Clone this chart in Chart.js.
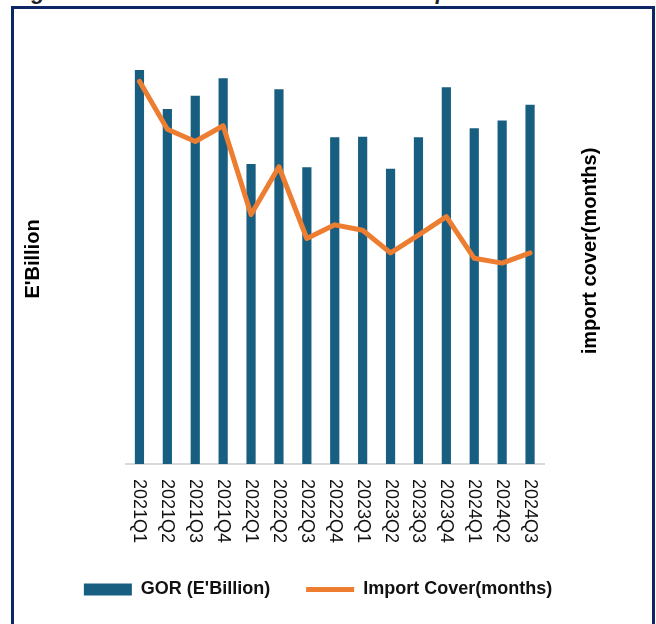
<!DOCTYPE html>
<html>
<head>
<meta charset="utf-8">
<script src="https://cdn.jsdelivr.net/npm/chart.js@4.4.1/dist/chart.umd.min.js"></script>
<style>
  html, body { margin: 0; padding: 0; background: #ffffff; overflow: hidden; }
  #wrap { position: relative; width: 656px; height: 624px; overflow: hidden; background: #ffffff; }
  #caption {
    position: absolute; left: 12px; top: -19px; white-space: nowrap;
    font: italic bold 22px 'Liberation Sans', Arial, sans-serif; line-height: 22px; color: #222222;
  }
  #chart { position: absolute; left: 0; top: 0; }
  #frame {
    position: absolute; left: 11px; top: 6px; width: 644px; height: 700px;
    box-sizing: border-box; border: 3px solid #0d2766; pointer-events: none;
  }
</style>
</head>
<body>
<div id="wrap">
  <div id="caption">Figure 6: Gross Official Reserves and Import Cover</div>
  <canvas id="chart" width="656" height="624"></canvas>
  <div id="frame"></div>
</div>
<script>
// Quarters on the category axis (also used as the tick labels)
const categories = ['2021Q1', '2021Q2', '2021Q3', '2021Q4',
                    '2022Q1', '2022Q2', '2022Q3', '2022Q4',
                    '2023Q1', '2023Q2', '2023Q3', '2023Q4',
                    '2024Q1', '2024Q2', '2024Q3'];

// Gross official reserves, E'Billion
const gorValues = [9.61, 8.66, 8.98, 9.41, 7.32, 9.14, 7.24, 7.97,
                   7.98, 7.20, 7.97, 9.19, 8.19, 8.38, 8.76];

// Import cover, months
const coverValues = [5.60, 4.90, 4.72, 4.95, 3.65, 4.35, 3.30, 3.50,
                     3.42, 3.09, 3.35, 3.62, 3.01, 2.94, 3.09];

const gorRange = [0, 10];
const coverRange = [0, 6];

const gorLabel = "GOR (E'Billion)";
const coverLabel = 'Import Cover(months)';
const gorAxisTitle = "E'Billion";
const coverAxisTitle = 'import cover(months)';

const FONT = "'Liberation Sans', Arial, sans-serif";

// Category labels written top-to-bottom under each bar
const verticalTickLabels = {
  id: 'verticalTickLabels',
  afterDraw(chart) {
    const xs = chart.scales.x;
    const ctx = chart.ctx;
    ctx.save();
    ctx.font = '18px ' + FONT;
    ctx.fillStyle = '#111111';
    ctx.textAlign = 'left';
    ctx.textBaseline = 'middle';
    xs.ticks.forEach((t, i) => {
      const x = xs.getPixelForTick(i);
      ctx.save();
      ctx.translate(x, xs.top + 15);
      ctx.rotate(Math.PI / 2);
      ctx.fillText(xs.getLabelForValue(t.value), 0, 0);
      ctx.restore();
    });
    ctx.restore();
  }
};

// Title of the right-hand axis, reading bottom-to-top
const rightAxisTitle = {
  id: 'rightAxisTitle',
  afterDraw(chart) {
    const s = chart.scales.yCover;
    const area = chart.chartArea;
    const ctx = chart.ctx;
    ctx.save();
    ctx.translate(s.left + 46, (area.top + area.bottom) / 2 - 8);
    ctx.rotate(-Math.PI / 2);
    ctx.font = 'bold 20px ' + FONT;
    ctx.fillStyle = '#000000';
    ctx.textAlign = 'center';
    ctx.textBaseline = 'middle';
    ctx.fillText(coverAxisTitle, 0, 0);
    ctx.restore();
  }
};

new Chart(document.getElementById('chart'), {
  data: {
    labels: categories,
    datasets: [
      {
        type: 'bar',
        label: gorLabel,
        data: gorValues,
        yAxisID: 'yGor',
        backgroundColor: '#185e81',
        borderWidth: 0,
        barPercentage: 0.33,
        categoryPercentage: 1,
        order: 1
      },
      {
        type: 'line',
        label: coverLabel,
        data: coverValues,
        yAxisID: 'yCover',
        borderColor: '#ed7d31',
        backgroundColor: '#ed7d31',
        borderWidth: 5,
        borderCapStyle: 'round',
        borderJoinStyle: 'round',
        pointRadius: 0,
        tension: 0,
        order: 0
      }
    ]
  },
  options: {
    responsive: false,
    animation: false,
    layout: { padding: { left: 0, right: 20, top: 54, bottom: 15.5 } },
    plugins: {
      tooltip: { enabled: false },
      legend: {
        position: 'bottom',
        labels: {
          usePointStyle: true,
          pointStyleWidth: 48,
          boxHeight: 12,
          padding: 36,
          color: '#111111',
          font: { family: FONT, size: 18, weight: 'bold' },
          sort: (a, b) => a.datasetIndex - b.datasetIndex,
          generateLabels(chart) {
            const items = Chart.defaults.plugins.legend.labels.generateLabels(chart);
            items.forEach(it => { it.pointStyle = it.datasetIndex === 0 ? 'rect' : 'line'; });
            return items;
          }
        }
      }
    },
    scales: {
      x: {
        ticks: { display: false },
        grid: { display: false },
        border: { display: true, color: '#d9d9d9', width: 2 },
        afterFit: s => { s.height = 80.5; }
      },
      yGor: {
        position: 'left',
        min: gorRange[0],
        max: gorRange[1],
        ticks: { display: false },
        grid: { display: false },
        border: { display: false },
        title: {
          display: true,
          text: gorAxisTitle,
          color: '#000000',
          font: { family: FONT, size: 20, weight: 'bold' },
          padding: { top: 21, bottom: 0 }
        },
        afterFit: s => { s.width = 125.5; }
      },
      yCover: {
        position: 'right',
        min: coverRange[0],
        max: coverRange[1],
        ticks: { display: false },
        grid: { display: false },
        border: { display: false },
        afterFit: s => { s.width = 92; }
      }
    }
  },
  plugins: [verticalTickLabels, rightAxisTitle]
});
</script>
</body>
</html>
